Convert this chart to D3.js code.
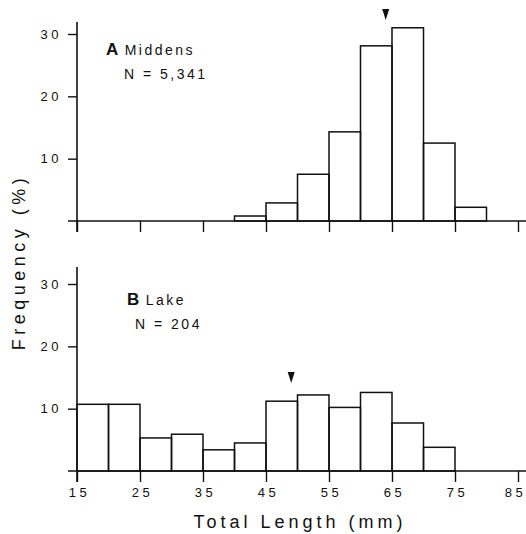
<!DOCTYPE html>
<html>
<head>
<meta charset="utf-8">
<script src="https://cdn.jsdelivr.net/npm/d3@7"></script>
<style>
  body { margin: 0; background: #fff; }
  text { font-family: "Liberation Sans", Arial, sans-serif; fill: #111; }
</style>
</head>
<body>
<svg id="chart" width="526" height="534"></svg>
<script>
// bin start (mm), each bin 5 mm wide
var middensBins = [40, 45, 50, 55, 60, 65, 70, 75];
var middensFreq = [0.8, 2.9, 7.5, 14.3, 28.1, 31.0, 12.5, 2.2];
var lakeBins = [15, 20, 25, 30, 35, 40, 45, 50, 55, 60, 65, 70];
var lakeFreq = [10.7, 10.7, 5.3, 5.9, 3.4, 4.5, 11.2, 12.2, 10.2, 12.6, 7.7, 3.8];
var xTicks = [15, 25, 35, 45, 55, 65, 75, 85];
var yTicks = [10, 20, 30];
var panels = [
  { letter: 'A', name: 'Middens', n: 'N = 5,341', bins: middensBins, freq: middensFreq, mean: 64, base: 221, top: 34, axisTop: 22, labels: false },
  { letter: 'B', name: 'Lake', n: 'N = 204', bins: lakeBins, freq: lakeFreq, mean: 49, base: 471, top: 284, axisTop: 267, labels: true }
];

var svg = d3.select('#chart');
var x = d3.scaleLinear().domain([15, 85]).range([77, 518]);
var ink = '#111';

panels.forEach(function(p) {
  var y = d3.scaleLinear().domain([0, 30]).range([p.base, p.top]);
  var g = svg.append('g');

  var data = p.bins.map(function(b, i) { return { x0: b, x1: b + 5, v: p.freq[i] }; });

  g.selectAll('rect.bar')
    .data(data)
    .enter()
    .append('rect')
    .attr('class', 'bar')
    .attr('x', function(d) { return x(d.x0); })
    .attr('width', function(d) { return x(d.x1) - x(d.x0); })
    .attr('y', function(d) { return y(d.v); })
    .attr('height', function(d) { return y(0) - y(d.v); })
    .attr('fill', 'none')
    .attr('stroke', ink)
    .attr('stroke-width', 1.5);

  // baseline
  g.append('line')
    .attr('x1', 68).attr('x2', 526)
    .attr('y1', y(0)).attr('y2', y(0))
    .attr('stroke', ink).attr('stroke-width', 1.6);

  // x axis ticks
  var xa = d3.axisBottom(x).tickValues(xTicks).tickSize(11).tickPadding(6)
    .tickFormat(p.labels ? d3.format('d') : function() { return ''; });
  var gx = g.append('g').attr('transform', 'translate(0,' + y(0) + ')').call(xa);
  gx.select('.domain').remove();
  gx.selectAll('.tick line').attr('stroke', ink).attr('stroke-width', 1.4);
  gx.selectAll('.tick text')
    .style('font-size', '13px')
    .style('letter-spacing', '3.5px')
    .attr('dx', function(d) { return d === 85 ? -3 : 2; })
    .attr('fill', ink);

  // y axis
  var ya = d3.axisLeft(y).tickValues(yTicks).tickSize(9).tickPadding(6).tickFormat(d3.format('d'));
  var gy = g.append('g').attr('transform', 'translate(' + x(15) + ',0)').call(ya);
  gy.select('.domain').remove();
  gy.selectAll('.tick line').attr('stroke', ink).attr('stroke-width', 1.4);
  gy.selectAll('.tick text')
    .style('font-size', '13px')
    .style('letter-spacing', '3.5px')
    .attr('fill', ink);

  g.append('line')
    .attr('x1', x(15)).attr('x2', x(15))
    .attr('y1', p.axisTop).attr('y2', y(0) + 11)
    .attr('stroke', ink).attr('stroke-width', 1.6);

  // mean marker
  var mx = x(p.mean);
  var my = p.letter === 'A' ? 9 : 372;
  g.append('path')
    .attr('d', 'M' + (mx - 3.5) + ',' + my + ' L' + (mx + 3.5) + ',' + my + ' L' + mx + ',' + (my + 11) + ' Z')
    .attr('fill', ink);

  // panel labels
  var lx = p.letter === 'A' ? 106 : 127;
  var ly = p.letter === 'A' ? 55 : 305;
  var t = g.append('text').attr('x', lx).attr('y', ly);
  t.append('tspan').text(p.letter)
    .style('font-size', '17px').style('font-weight', 'bold');
  t.append('tspan').text(' ' + p.name)
    .style('font-size', '14px').style('letter-spacing', '2.5px');
  g.append('text')
    .attr('x', p.letter === 'A' ? 124 : 135)
    .attr('y', ly + 24)
    .style('font-size', '14px')
    .style('letter-spacing', '2.5px')
    .text(p.n);
});

svg.append('text')
  .attr('x', 300).attr('y', 528)
  .attr('text-anchor', 'middle')
  .style('font-size', '18px')
  .style('letter-spacing', '4px')
  .text('Total Length (mm)');

svg.append('text')
  .attr('transform', 'translate(25,262) rotate(-90)')
  .attr('text-anchor', 'middle')
  .style('font-size', '18px')
  .style('letter-spacing', '4.5px')
  .text('Frequency (%)');
</script>
</body>
</html>
